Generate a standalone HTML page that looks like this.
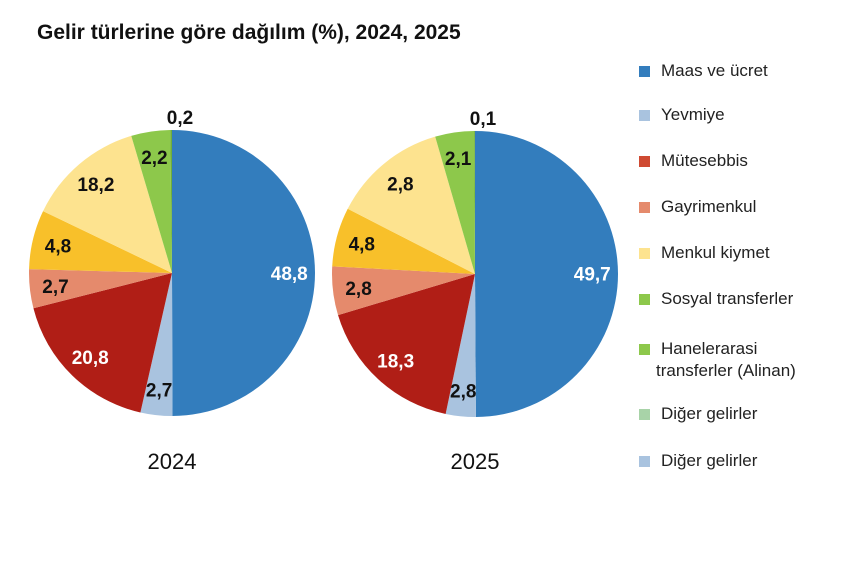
<!DOCTYPE html>
<html><head><meta charset="utf-8"><style>
body{margin:0;background:#fff;font-family:"Liberation Sans","DejaVu Sans",sans-serif;}
#wrap{position:relative;width:860px;height:573px;overflow:hidden;}
.t{position:absolute;left:37px;top:21px;font-size:21px;font-weight:bold;color:#111;}
.leg{position:absolute;left:639px;font-size:17px;color:#222;}
.sw{position:absolute;left:0;width:11px;height:11px;}
.lt{position:absolute;left:22px;white-space:nowrap;line-height:22px;}
</style></head><body>
<div id="wrap">
<div class="t">Gelir türlerine göre dağılım (%), 2024, 2025</div>
<svg id="svg" width="860" height="573" style="position:absolute;left:0;top:0"></svg>
<div id="legend"></div>
</div>
<script>
const years = ["2024","2025"];
// slice shares as drawn in the picture
const values2024 = [50.0, 3.6, 17.5, 4.4, 6.7, 13.3, 4.4, 0.2];
const values2025 = [50.0, 3.4, 17.1, 5.5, 6.7, 13.0, 4.4, 0.1];
// printed labels
const labels2024 = ["48,8","2,7","20,8","2,7","4,8","18,2","2,2","0,2"];
const labels2025 = ["49,7","2,8","18,3","2,8","4,8","2,8","2,1","0,1"];
const sliceColors = ["#337dbd","#a9c3df","#b01e16","#e58a6c","#f8c02a","#fde38f","#8dc84b","#6fae3a"];
const labelColors = ["#fff","#111","#fff","#111","#111","#111","#111","#111"];
const legendNames = ["Maas ve ücret","Yevmiye","Mütesebbis","Gayrimenkul","Menkul kiymet","Sosyal transferler","Hanelerarasi","Diğer gelirler","Diğer gelirler"];
const legendColors = ["#337dbd","#a9c3df","#cf4a32","#e58a6c","#fde38f","#8dc84b","#8dc84b","#a8d3a8","#a9c3df"];

const NS="http://www.w3.org/2000/svg";
const svg=document.getElementById('svg');
const pies=[{cx:172,cy:273,vals:values2024,labs:labels2024,year:years[0]},{cx:475,cy:274,vals:values2025,labs:labels2025,year:years[1]}];
const R=143;
function pt(cx,cy,r,a){return [cx+r*Math.sin(a),cy-r*Math.cos(a)];}
pies.forEach((p,pi)=>{
  const total=p.vals.reduce((a,b)=>a+b,0);
  let a0=0;
  p.vals.forEach((v,i)=>{
    const a1=a0+v/total*2*Math.PI;
    const [x0,y0]=pt(p.cx,p.cy,R,a0),[x1,y1]=pt(p.cx,p.cy,R,a1);
    const path=document.createElementNS(NS,'path');
    path.setAttribute('d',`M${p.cx},${p.cy}L${x0},${y0}A${R},${R} 0 ${a1-a0>Math.PI?1:0} 1 ${x1},${y1}Z`);
    path.setAttribute('fill',sliceColors[i]);
    
    
    svg.appendChild(path);
    const mid=(a0+a1)/2;
    const small=v<1;
    let [lx,ly]=small?[p.cx+8,p.cy-R-13]:pt(p.cx,p.cy,R*0.82,mid);
    const t=document.createElementNS(NS,'text');
    t.setAttribute('x',lx);t.setAttribute('y',ly+7);
    t.setAttribute('text-anchor','middle');
    t.setAttribute('font-size','19');t.setAttribute('font-weight','bold');
    t.setAttribute('font-family','Liberation Sans, sans-serif');
    t.setAttribute('fill',labelColors[i]);
    t.textContent=p.labs[i];
    
    
    svg.appendChild(t);
    a0=a1;
  });
  const y=document.createElementNS(NS,'text');
  y.setAttribute('x',p.cx);y.setAttribute('y',469);y.setAttribute('text-anchor','middle');
  y.setAttribute('font-size','22');y.setAttribute('font-family','Liberation Sans, sans-serif');y.setAttribute('fill','#111');
  y.textContent=p.year;
  
  
  svg.appendChild(y);
});
const legTops=[60,104,150,196,242,288,338,403,450];
const lg=document.getElementById('legend');
legendNames.forEach((n,i)=>{
  const d=document.createElement('div');d.className='leg';d.style.top=legTops[i]+'px';
  
  
  const s=document.createElement('div');s.className='sw';s.style.top='6px';s.style.background=legendColors[i];
  
  
  const l=document.createElement('div');l.className='lt';l.style.top='0';
  l.innerHTML=i===6?'Hanelerarasi<br><span style="margin-left:-5px">transferler (Alinan)</span>':n;
  
  
  d.appendChild(s);d.appendChild(l);lg.appendChild(d);
});
</script>
</body></html>
